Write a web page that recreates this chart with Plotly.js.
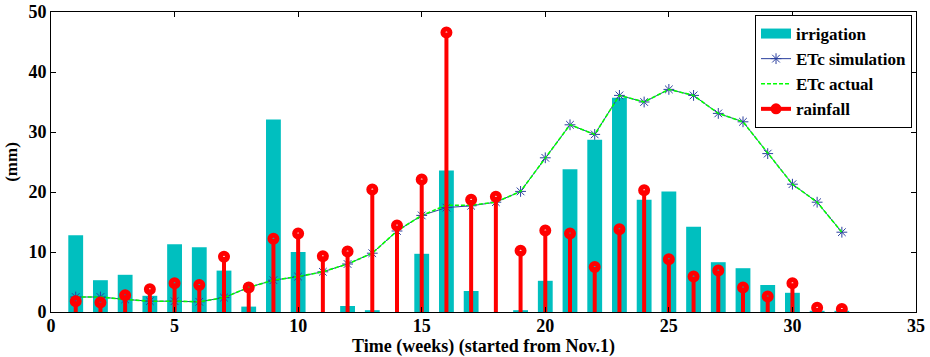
<!DOCTYPE html>
<html>
<head>
<meta charset="utf-8">
<script src="https://cdn.plot.ly/plotly-3.0.1.min.js"></script>
<style>html,body{margin:0;padding:0;background:#fff;}#chart{width:930px;height:357px;}</style>
</head>
<body>
<div id="chart"></div>
<script>
var weeks = [1,2,3,4,5,6,7,8,9,10,11,12,13,14,15,16,17,18,19,20,21,22,23,24,25,26,27,28,29,30,31,32];
var irrigation = [12.8,5.3,6.2,2.7,11.3,10.8,6.9,0.9,32.1,10.0,0,1.0,0.3,0,9.7,23.6,3.5,0,0.3,5.2,23.8,28.7,35.7,18.7,20.1,14.2,8.3,7.3,4.5,3.2,0.2,0.2];
var rainfall = [1.8,1.6,2.8,3.8,4.8,4.5,9.2,4.1,12.2,13.1,9.3,10.1,20.4,14.4,22.1,46.6,18.7,19.2,10.2,13.6,13.1,7.5,13.8,20.3,8.8,5.9,6.9,4.1,2.6,4.8,0.7,0.5];
var etcSim = [2.5,2.5,2.1,1.8,1.8,1.7,2.4,4.1,5.3,5.9,6.7,8.0,9.8,13.5,16.1,17.4,17.7,18.3,20.1,25.7,31.2,29.6,36.1,35.0,37.1,36.1,33.1,31.7,26.4,21.3,18.3,13.3];
var etcAct = [2.5,2.5,2.1,1.8,1.8,1.7,2.4,4.1,5.3,5.9,6.7,8.0,9.8,13.5,16.1,17.8,17.8,18.3,20.1,25.7,31.2,29.6,36.1,35.0,37.1,36.1,33.1,31.7,26.4,21.3,18.3,13.3];
var xTicks = [0,5,10,15,20,25,30,35];
var yTicks = [0,10,20,30,40,50];
var seriesNames = ['irrigation', 'ETc simulation', 'ETc actual', 'rainfall'];

var FAM = '"Liberation Serif", "Times New Roman", serif';
var FS = 18;
var CYAN = '#00bfbf', BLUE = '#2b3f9e', GREEN = '#00ff00', RED = '#ff0000';

var traces = [
  {type: 'bar', name: seriesNames[0], showlegend: false, x: weeks, y: irrigation, width: 0.6,
   marker: {color: CYAN, line: {width: 0}}},
  {type: 'scatter', mode: 'lines+markers', name: '<b>' + seriesNames[1] + '</b>', x: weeks, y: etcSim,
   line: {color: BLUE, width: 1}, legendrank: 2,
   marker: {symbol: 'asterisk-open', size: 9, color: BLUE, line: {color: BLUE, width: 1}}},
  {type: 'scatter', mode: 'lines', name: '<b>' + seriesNames[2] + '</b>', x: weeks, y: etcAct,
   line: {color: GREEN, width: 1.6, dash: '4px,2px'}, legendrank: 3},
  {type: 'scatter', mode: 'markers', name: seriesNames[3], showlegend: false, x: weeks, y: rainfall,
   marker: {symbol: 'circle-open', size: 7, color: RED, line: {color: RED, width: 5}},
   error_y: {type: 'data', symmetric: false, array: weeks.map(function(){return 0;}), arrayminus: rainfall,
             color: RED, thickness: 4, width: 0}},
  // legend-only entries (no data drawn)
  {type: 'scatter', mode: 'lines', name: '<b>' + seriesNames[0] + '</b>', x: [null], y: [null],
   line: {color: CYAN, width: 13}, legendrank: 1},
  {type: 'scatter', mode: 'lines+markers', name: '<b>' + seriesNames[3] + '</b>', x: [null], y: [null],
   line: {color: RED, width: 4}, marker: {symbol: 'circle', size: 11, color: RED}, legendrank: 4}
];

var layout = {
  width: 930, height: 357,
  margin: {l: 51, r: 14, t: 12, b: 45, pad: 0},
  paper_bgcolor: '#fff', plot_bgcolor: '#fff',
  font: {family: FAM, size: FS, color: '#000'},
  showlegend: true,
  barmode: 'overlay',
  legend: {x: 0.9954, y: 0.99, xanchor: 'right', yanchor: 'top',
           bgcolor: '#fff', bordercolor: '#000', borderwidth: 1,
           font: {family: FAM, size: 17, color: '#000'},
           tracegroupgap: 0, traceorder: 'normal'},
  xaxis: {range: [0, 35], tickvals: xTicks, ticktext: xTicks.map(String),
          showgrid: false, zeroline: false, showline: true, linecolor: '#000', linewidth: 1,
          mirror: 'ticks', ticks: 'inside', ticklen: 5, tickcolor: '#000',
          ticklabelstandoff: -3,
          tickfont: {family: FAM, size: FS, color: '#000', weight: 'bold'},
          title: {text: '<b>Time (weeks) (started from Nov.1)</b>', font: {family: FAM, size: FS, color: '#000'}, standoff: 6}},
  yaxis: {range: [0, 50], tickvals: yTicks, ticktext: yTicks.map(String),
          showgrid: false, zeroline: false, showline: true, linecolor: '#000', linewidth: 1,
          mirror: 'ticks', ticks: 'inside', ticklen: 5, tickcolor: '#000',
          tickfont: {family: FAM, size: FS, color: '#000', weight: 'bold'},
          title: {text: '<b>(mm)</b>', font: {family: FAM, size: FS - 1, color: '#000'}, standoff: 6}}
};

Plotly.newPlot('chart', traces, layout, {displayModeBar: false, staticPlot: true});
</script>
</body>
</html>
